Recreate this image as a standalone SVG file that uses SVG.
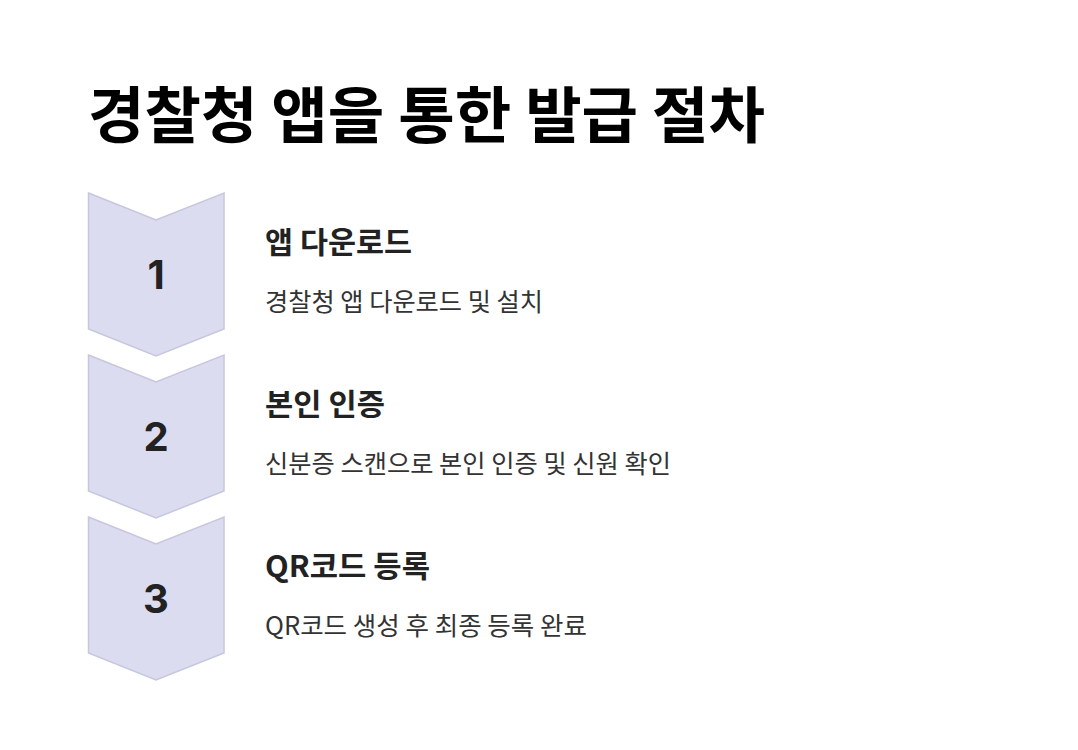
<svg xmlns="http://www.w3.org/2000/svg" width="1078" height="750" viewBox="0 0 1078 750">
<style>
.chev{fill:#dcdcf0;stroke:#c6c6de;stroke-width:1.5}
.num{font-family:Inter,"Noto Sans",sans-serif;font-weight:700;font-size:40px;fill:#222;text-anchor:middle}
.head{font-family:"Noto Sans CJK KR",sans-serif;font-weight:700;font-size:30px;fill:#222}
.desc{font-family:"Noto Sans CJK KR",sans-serif;font-weight:400;font-size:25px;fill:#333}
.title{font-family:"Noto Sans CJK KR",sans-serif;font-weight:700;font-size:61px;fill:#000}
</style>
<rect width="1078" height="750" fill="#fff"/>
<text class="title" x="88" y="138" textLength="677" lengthAdjust="spacingAndGlyphs">경찰청 앱을 통한 발급 절차</text>
<g id="step1">
<path class="chev" d="M88.5,193 L156,220 L224,193 L224,329 L156,356 L88.5,329 Z"/>
<text class="num" x="156" y="289">1</text>
<text class="head" x="265" y="253" textLength="147" lengthAdjust="spacingAndGlyphs">앱 다운로드</text>
<text class="desc" x="265" y="311" textLength="278" lengthAdjust="spacingAndGlyphs">경찰청 앱 다운로드 및 설치</text>
</g>
<g id="step2">
<path class="chev" d="M88.5,355 L156,382 L224,355 L224,491 L156,518 L88.5,491 Z"/>
<text class="num" x="156" y="451">2</text>
<text class="head" x="265" y="415" textLength="120" lengthAdjust="spacingAndGlyphs">본인 인증</text>
<text class="desc" x="265" y="473" textLength="406" lengthAdjust="spacingAndGlyphs">신분증 스캔으로 본인 인증 및 신원 확인</text>
</g>
<g id="step3">
<path class="chev" d="M88.5,517 L156,544 L224,517 L224,653 L156,680 L88.5,653 Z"/>
<text class="num" x="156" y="613">3</text>
<text class="head" x="265" y="577" textLength="165" lengthAdjust="spacingAndGlyphs">QR코드 등록</text>
<text class="desc" x="265" y="635" textLength="322" lengthAdjust="spacingAndGlyphs">QR코드 생성 후 최종 등록 완료</text>
</g>
<g id="connectors"/>
</svg>
